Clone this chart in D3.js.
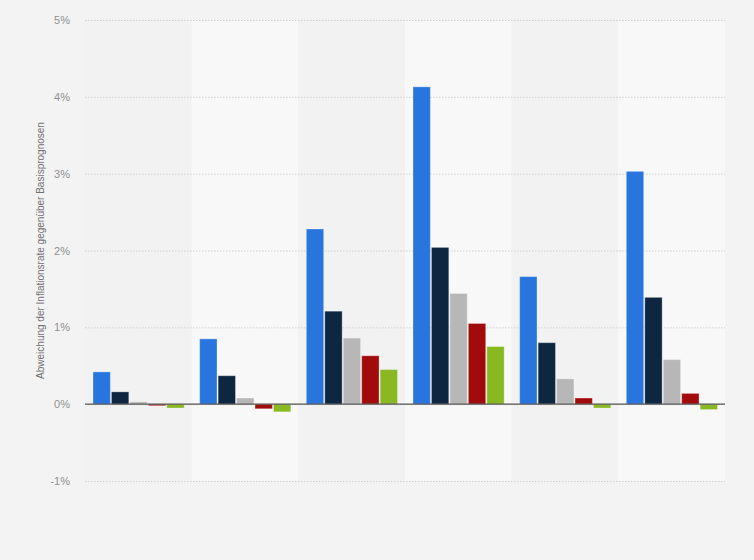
<!DOCTYPE html>
<meta charset="utf-8">
<style>
  body { margin: 0; background: #f3f3f3; }
  .tick text { font: 11px "Liberation Sans", Arial, sans-serif; fill: #909090; }
  .grid line { stroke: #cfcfcf; stroke-dasharray: 1.5, 1.5; }
  .title { font: 10px "Liberation Sans", Arial, sans-serif; fill: #707070; }
</style>
<body>
<script src="https://d3js.org/d3.v7.min.js"></script>
<script>

  // groups (no labels shown in the chart)
  var categories = ["G1", "G2", "G3", "G4", "G5", "G6"];
  var seriesNames = ["S1", "S2", "S3", "S4", "S5"];
  var seriesColors = ["#2876dd", "#0f2641", "#b7b7b7", "#a20b0b", "#89b823"];

  // values in percent, one array per series
  var s1 = [0.42, 0.85, 2.28, 4.13, 1.66, 3.03];
  var s2 = [0.16, 0.37, 1.21, 2.04, 0.80, 1.39];
  var s3 = [0.03, 0.08, 0.86, 1.44, 0.33, 0.58];
  var s4 = [-0.02, -0.06, 0.63, 1.05, 0.08, 0.14];
  var s5 = [-0.05, -0.10, 0.45, 0.75, -0.05, -0.07];
  var series = [s1, s2, s3, s4, s5];

  var yTicks = [-1, 0, 1, 2, 3, 4, 5];

  var width = 754, height = 560;
  var margin = { top: 20, right: 29, bottom: 79, left: 85 };
  var innerW = width - margin.left - margin.right,
      innerH = height - margin.top - margin.bottom;

  var svg = d3.select("body").append("svg")
    .attr("width", width)
    .attr("height", height);

  svg.append("rect")
    .attr("width", width).attr("height", height)
    .attr("fill", "#f3f3f3");

  var g = svg.append("g")
    .attr("transform", "translate(" + margin.left + "," + margin.top + ")");

  var x0 = d3.scaleBand().domain(categories).range([0, innerW]);
  var x1 = d3.scaleBand().domain(seriesNames)
    .range([8, x0.bandwidth() - 7.5]).paddingInner(0.06);
  var y = d3.scaleLinear().domain([-1, 5]).range([innerH, 0]);

  // alternating background bands
  g.selectAll(".band")
    .data(categories)
    .enter().append("rect")
    .attr("class", "band")
    .attr("x", function (d) { return x0(d); })
    .attr("y", 0)
    .attr("width", x0.bandwidth())
    .attr("height", innerH)
    .attr("fill", function (d, i) { return i % 2 ? "#f8f8f8" : "#f2f2f2"; });

  // dotted gridlines + labels
  var yAxis = d3.axisLeft(y)
    .tickValues(yTicks)
    .tickSize(-innerW)
    .tickPadding(15)
    .tickFormat(function (d) { return d + "%"; });

  g.append("g")
    .attr("class", "grid")
    .call(yAxis)
    .call(function (s) { s.select(".domain").remove(); });

  // bars
  var rows = [];
  series.forEach(function (vals, si) {
    vals.forEach(function (v, ci) {
      rows.push({ cat: categories[ci], s: seriesNames[si], v: v, c: seriesColors[si] });
    });
  });

  g.selectAll(".bar")
    .data(rows)
    .enter().append("rect")
    .attr("class", "bar")
    .attr("x", function (d) { return x0(d.cat) + x1(d.s); })
    .attr("y", function (d) { return y(Math.max(0, d.v)); })
    .attr("width", x1.bandwidth())
    .attr("height", function (d) { return Math.abs(y(d.v) - y(0)); })
    .attr("fill", function (d) { return d.c; })
    .attr("stroke", "rgba(255,255,255,0.3)")
    .attr("stroke-width", 1);

  // zero line
  g.append("line")
    .attr("x1", 0).attr("x2", innerW)
    .attr("y1", y(0)).attr("y2", y(0))
    .attr("stroke", "#555").attr("stroke-width", 1.3);

  // y axis title
  svg.append("text")
    .attr("class", "title")
    .attr("transform", "translate(44," + (margin.top + innerH / 2) + ") rotate(-90)")
    .attr("text-anchor", "middle")
    .text("Abweichung der Inflationsrate gegenüber Basisprognosen");

</script>
</body>
